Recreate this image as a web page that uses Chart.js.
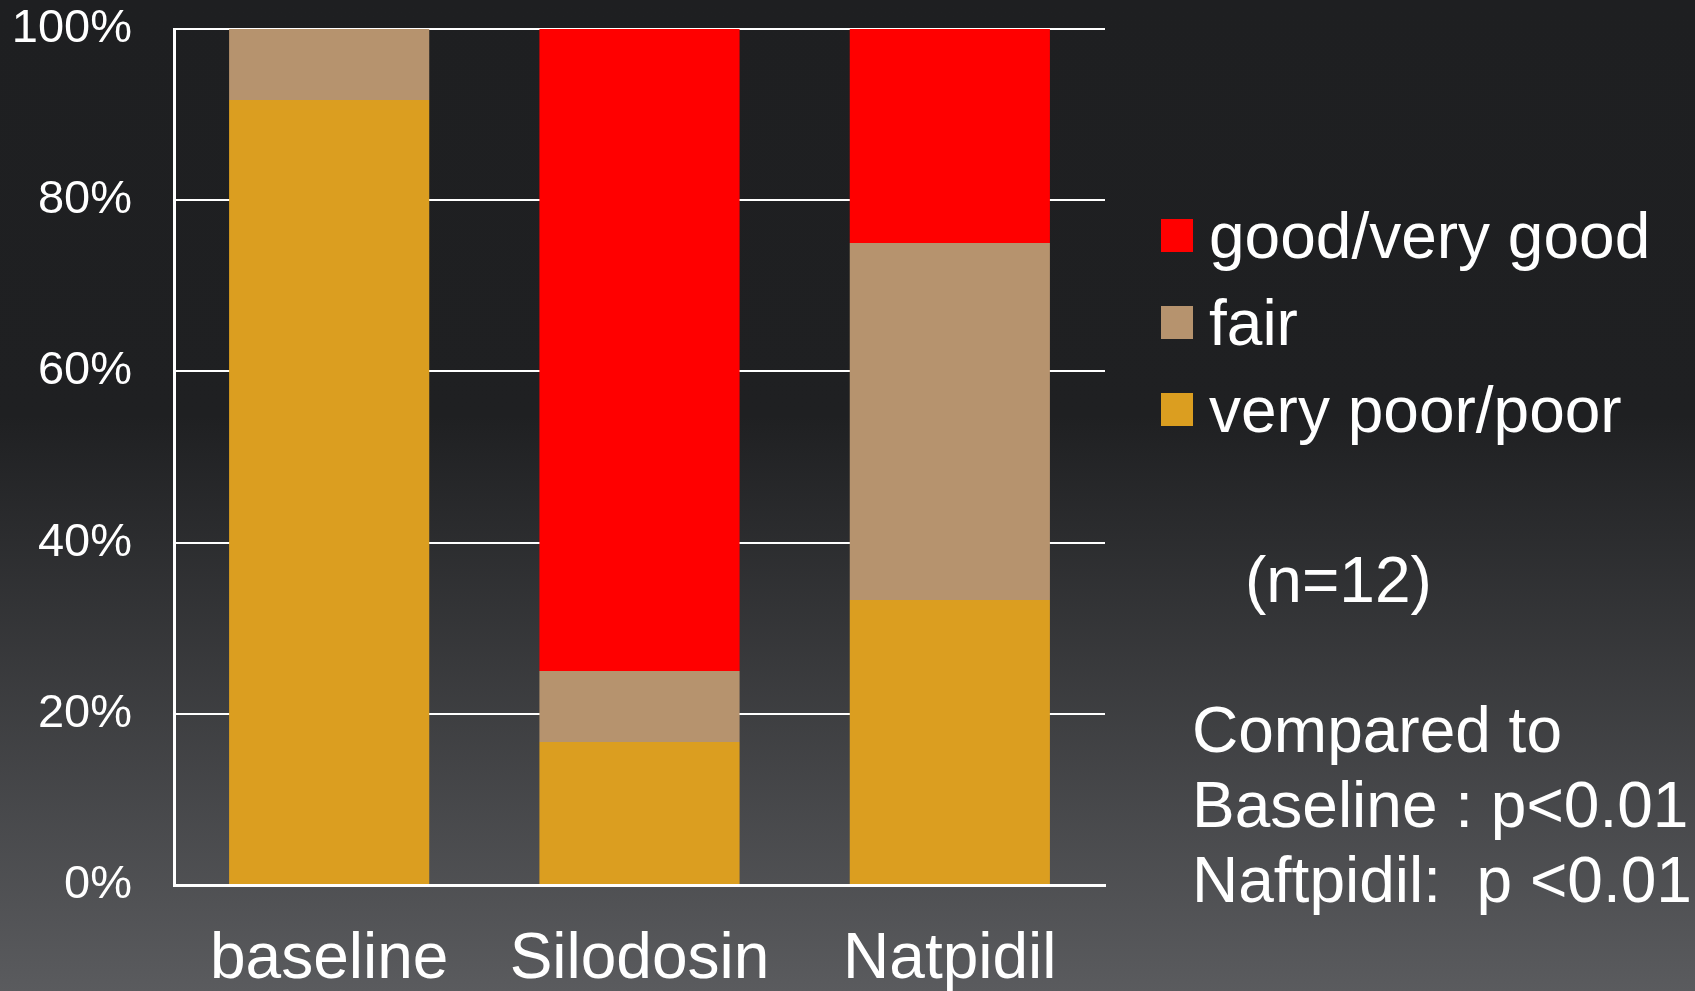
<!DOCTYPE html>
<html>
<head>
<meta charset="utf-8">
<script src="https://cdn.jsdelivr.net/npm/chart.js@4"></script>
<style>
  html, body { margin: 0; padding: 0; }
  body {
    width: 1695px; height: 991px; overflow: hidden; position: relative;
    background: linear-gradient(to bottom, #1e1f21 0%, #1f2022 42%, #5a5b5e 100%);
    font-family: "Liberation Sans", Arial, sans-serif; color: #fff;
  }
  #wrap { position: absolute; left: 0; top: 0; width: 1695px; height: 991px; }
  #legend { position: absolute; left: 1161px; top: 192px; }
  .item { height: 87px; display: flex; align-items: center; font-size: 64px; }
  .box { width: 32px; height: 33px; margin-right: 16px; }
  .note { position: absolute; font-size: 64px; line-height: 75px; white-space: pre; }
</style>
</head>
<body>
<div id="wrap"><canvas id="chart"></canvas></div>
<div id="legend"></div>
<div class="note" style="left:1245px; top:543px;">(n=12)</div>
<div class="note" style="left:1192px; top:693px;">Compared to
Baseline : p&lt;0.01
Naftpidil:  p &lt;0.01</div>
<script>
const categories = ['baseline', 'Silodosin', 'Natpidil'];
const veryPoorPoor = [91.7, 16.7, 33.3];
const fair = [8.3, 8.3, 41.7];
const goodVeryGood = [0, 75, 25];
const yTicks = [0, 20, 40, 60, 80, 100];

const datasets = [
    { label: 'very poor/poor', data: veryPoorPoor, backgroundColor: '#db9e20' },
    { label: 'fair', data: fair, backgroundColor: '#b6936e' },
    { label: 'good/very good', data: goodVeryGood, backgroundColor: '#ff0000' }
];

// legend lists top segment first
const legend = document.getElementById('legend');
datasets.slice().reverse().forEach(ds => {
    const row = document.createElement('div');
    row.className = 'item';
    row.innerHTML = '<div class="box" style="background:' + ds.backgroundColor + '"></div><span>' + ds.label + '</span>';
    legend.appendChild(row);
});

Chart.defaults.font.family = '"Liberation Sans", Arial, sans-serif';
Chart.defaults.color = '#ffffff';

const ctx = document.getElementById('chart').getContext('2d');
new Chart(ctx, {
    type: 'bar',
    data: {
        labels: categories,
        datasets: datasets.map(ds => Object.assign({ barPercentage: 0.645, categoryPercentage: 1 }, ds))
    },
    options: {
        responsive: true,
        maintainAspectRatio: false,
        animation: false,
        layout: { padding: { top: 29, right: 590, left: 0, bottom: 0 } },
        plugins: { legend: { display: false }, tooltip: { enabled: false } },
        scales: {
            x: {
                stacked: true,
                grid: { display: false, drawTicks: false },
                border: { color: '#ffffff', width: 3 },
                ticks: { font: { size: 64 }, padding: 37, color: '#ffffff', maxRotation: 0 },
                afterFit: scale => { scale.height = 106; }
            },
            y: {
                stacked: true,
                min: 0,
                max: 100,
                afterBuildTicks: scale => { scale.ticks = yTicks.map(v => ({ value: v })); },
                // invisible tick marks give the label gap without adding top padding
                grid: { color: '#ffffff', lineWidth: 2, drawTicks: true, tickLength: 42, tickColor: 'rgba(0,0,0,0)' },
                border: { color: '#ffffff', width: 3 },
                ticks: { font: { size: 47 }, padding: 0, color: '#ffffff', callback: v => v + '%' },
                afterFit: scale => { scale.width = 174; }
            }
        }
    }
});
</script>
</body>
</html>
